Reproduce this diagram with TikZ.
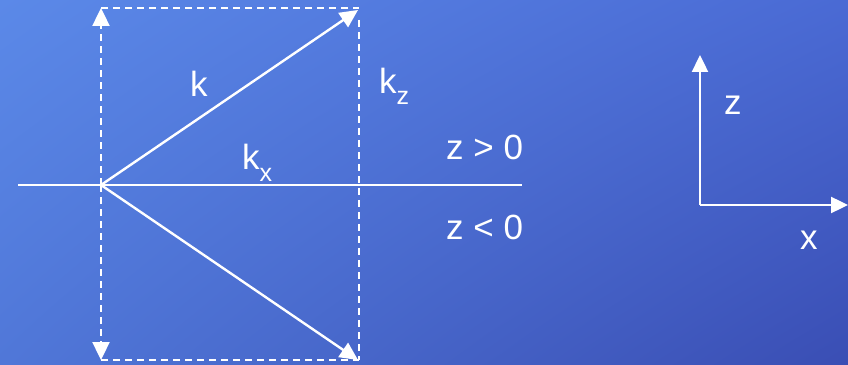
\documentclass[tikz,border=0pt]{standalone}
\usepackage{fontspec}
\setmainfont{Liberation Sans}
\usepackage{tikz}
\usetikzlibrary{arrows.meta,positioning,calc,shadings}

\definecolor{bgUL}{RGB}{91,137,232}
\definecolor{bgUR}{RGB}{74,106,212}
\definecolor{bgLL}{RGB}{80,119,216}
\definecolor{bgLR}{RGB}{58,78,180}

\begin{document}
\begin{tikzpicture}[
    x=1pt, y=1pt,
    vec/.style={draw=white, line width=2.4pt,
                -{Triangle[length=18pt, width=17pt]}},
    proj/.style={draw=white, line width=2.4pt, dash pattern=on 7pt off 5pt},
    projvec/.style={proj, -{Triangle[length=18pt, width=17pt]}},
    plane/.style={draw=white, line width=2.4pt},
    axis/.style={draw=white, line width=2.4pt,
                 -{Triangle[length=17pt, width=16pt]}},
    lbl/.style={text=white, inner sep=0pt, font=\fontsize{35}{35}\selectfont},
]

% === Background ===
\useasboundingbox (0,0) rectangle (848,364);
\shade[upper left=bgUL, upper right=bgUR, lower left=bgLL, lower right=bgLR]
  (0,0) rectangle (848,364);

% === Points ===
\coordinate (O)    at (101,179);
\coordinate (Wl)   at (18,179);
\coordinate (Wr)   at (522,179);
\coordinate (Ztop) at (101,356);
\coordinate (Zbot) at (101,4);
\coordinate (Kup)  at (358,354);
\coordinate (Kdn)  at (358,4);
\coordinate (TR)   at (359,356);
\coordinate (TRd)  at (359,344);
\coordinate (BR)   at (359,4);

% === Interface ===
\draw[plane] (Wl) -- (Wr);

% === Projections ===
\draw[projvec] (O) -- (Ztop);
\draw[projvec] (O) -- (Zbot);
\draw[proj] (Ztop) -- (TR);
\draw[proj] (TRd) -- (BR);
\draw[proj] (Zbot) -- (BR);

% === Wave vectors ===
\draw[vec] (O) -- (Kup);
\draw[vec] (O) -- (Kdn);

% === Labels ===
\node[lbl, anchor=base west] (lk) at (190,267) {k};
\node[lbl, anchor=base west] (lkz) at (379,270)
  {k\raisebox{-11pt}{\fontsize{25}{25}\selectfont z}};
\node[lbl, anchor=base west] (lkx) at (242,194)
  {k\raisebox{-12pt}{\fontsize{25}{25}\selectfont x}};
\node[lbl, anchor=base west] (zpos) at (446,204) {z > 0};
\node[lbl, anchor=base west] (zneg) at (446,124) {z < 0};

% === Axes ===
\coordinate (A0) at (700,159);
\coordinate (Az) at (700,309);
\coordinate (Ax) at (848,159);
\draw[axis] (A0) -- (Az);
\draw[axis] (A0) -- (Ax);
\node[lbl, anchor=base west] (lz) at (724,249) {z};
\node[lbl, anchor=base west] (lx) at (800,114) {x};

\end{tikzpicture}
\end{document}
